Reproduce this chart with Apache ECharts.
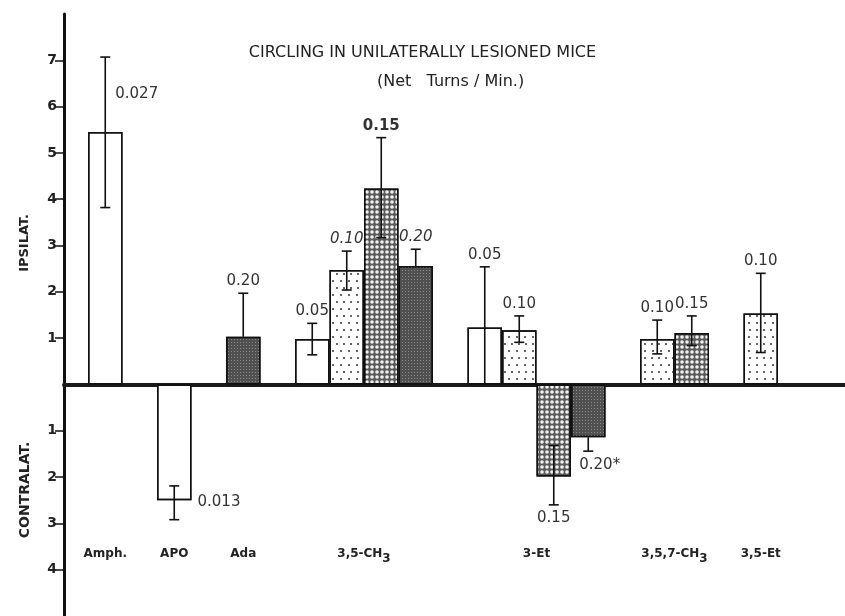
<!DOCTYPE html>
<html><head><meta charset="utf-8">
<script src="https://cdn.jsdelivr.net/npm/echarts@6/dist/echarts.min.js"></script>
<style>html,body{margin:0;padding:0;background:#fff}#c{width:845px;height:616px}</style>
</head><body><div id="c"></div>
<script>
// ---- data ----
const groupNames = ['Amph.', 'APO', 'Ada', '3,5-CH3', '3-Et', '3,5,7-CH3', '3,5-Et'];
const barGroup   = [0, 1, 2, 3, 3, 3, 3, 4, 4, 4, 4, 5, 5, 6];
const barFill    = ['open','open','dark','open','fine','coarse','dark','open','fine','coarse','dark','fine','coarse','fine'];
const barMean    = [5.45, -2.50, 1.03, 0.98, 2.47, 4.23, 2.56, 1.23, 1.17, -1.99, -1.14, 0.98, 1.11, 1.53];
const errLow     = [3.82, -2.92, 1.03, 0.64, 2.04, 3.17, 2.56, 0.00, 0.91, -2.60, -1.44, 0.66, 0.84, 0.69];
const errHigh    = [7.07, -2.19, 1.97, 1.32, 2.88, 5.33, 2.92, 2.54, 1.48, -1.32, -1.14, 1.39, 1.48, 2.40];
const pValue     = ['0.027','0.013','0.20','0.05','0.10','0.15','0.20','0.05','0.10','0.15','0.20*','0.10','0.15','0.10'];
const yTicks     = [-4, -3, -2, -1, 1, 2, 3, 4, 5, 6, 7];

// ---- layout (not data) ----
const W = 845, H = 616;
const gridLeft = 64, gridTop = 14;
const slotPx = 34.5, firstBarLeft = 88;
const xMin = -(firstBarLeft - gridLeft) / slotPx - 0.5;
const xMax = xMin + (W - gridLeft) / slotPx;

// slot of each bar: consecutive within group, one empty slot between groups
const slotOf = [];
let s = 0;
barGroup.forEach((g, i) => {
  if (i > 0) s += (g !== barGroup[i - 1]) ? 2 : 1;
  slotOf.push(s);
});
const groupCenters = groupNames.map((_, g) => {
  const sl = slotOf.filter((_, i) => barGroup[i] === g);
  return sl.reduce((a, b) => a + b, 0) / sl.length;
});

const fills = {
  open:   { color: '#ffffff', decal: { symbol: 'rect', symbolSize: 1, color: 'rgba(0,0,0,0)',
            dashArrayX: [1, 0], dashArrayY: [1, 0], rotation: 0 } },
  fine:   { color: '#ffffff', decal: { symbol: 'circle', symbolSize: 1, color: '#333',
            dashArrayX: [[2, 5], [0, 3.5, 2, 1.5]], dashArrayY: [2, 5], rotation: 0 } },
  coarse: { color: '#5a5a5a', decal: { symbol: 'circle', symbolSize: 0.9, color: '#f2f2f2',
            dashArrayX: [4, 1], dashArrayY: [4, 1], rotation: 0 } },
  dark:   { color: '#505050', decal: { symbol: 'rect', symbolSize: 1, color: '#888',
            dashArrayX: [1, 2], dashArrayY: [1, 2], rotation: 0 } }
};

const barData = barMean.map((v, i) => ({
  value: [slotOf[i], v],
  itemStyle: { color: fills[barFill[i]].color, decal: fills[barFill[i]].decal,
               borderColor: '#111', borderWidth: 1.5 }
}));
const errData = barMean.map((v, i) => [slotOf[i], errLow[i], errHigh[i], v, i]);

const labelPlace = { 0: 'whiskerRight', 1: 'barRight', 10: 'bottomRight' };
const labelFontStyle = { 4: 'italic', 6: 'italic' };
const labelFontWeight = { 5: 'bold' };

function renderErr(params, api) {
  const x = api.value(0), lo = api.value(1), hi = api.value(2), m = api.value(3), i = api.value(4);
  const pLo = api.coord([x, lo]), pHi = api.coord([x, hi]), pM = api.coord([x, m]);
  const cx = pM[0];
  const ls = { stroke: '#111', lineWidth: 1.6 };
  const ch = [{ type: 'line', shape: { x1: cx, y1: pLo[1], x2: cx, y2: pHi[1] }, style: ls }];
  const cap = 5;
  if (lo !== m && lo !== 0) ch.push({ type: 'line', shape: { x1: cx - cap, y1: pLo[1], x2: cx + cap, y2: pLo[1] }, style: ls });
  if (hi !== m && hi !== 0) ch.push({ type: 'line', shape: { x1: cx - cap, y1: pHi[1], x2: cx + cap, y2: pHi[1] }, style: ls });
  const halfBar = slotPx / 2;
  const place = labelPlace[i] || (m < 0 ? 'bottom' : 'top');
  let tx = cx, ty, align = 'center';
  if (place === 'top') ty = pHi[1] - 12;
  else if (place === 'bottom') ty = pLo[1] + 13;
  else if (place === 'bottomRight') { tx = cx - 9; align = 'left'; ty = pLo[1] + 14; }
  else if (place === 'whiskerRight') { tx = cx + 10; align = 'left'; ty = api.coord([x, (m + hi) / 2])[1]; }
  else if (place === 'barRight') { tx = cx + halfBar + 6; align = 'left'; ty = pM[1] + 2; }
  const fs = labelFontStyle[i] || 'normal';
  const fw = labelFontWeight[i] || 'normal';
  ch.push({ type: 'text', style: { text: pValue[i], x: tx, y: ty, align: align, verticalAlign: 'middle',
    font: fs + ' ' + fw + ' 15px "DejaVu Sans"', fill: '#333' } });
  return { type: 'group', children: ch };
}

const chart = echarts.init(document.getElementById('c'), null, { renderer: 'canvas', width: W, height: H });
chart.setOption({
  animation: false,
  backgroundColor: '#fff',
  aria: { enabled: true, decal: { show: true } },
  title: [
    { text: 'CIRCLING IN UNILATERALLY LESIONED MICE', left: 'center', top: 40,
      textStyle: { fontFamily: 'DejaVu Sans', fontSize: 16, fontWeight: 'normal', color: '#222' } },
    { text: '(Net   Turns / Min.)', left: 372, top: 69,
      textStyle: { fontFamily: 'DejaVu Sans', fontSize: 16, fontWeight: 'normal', color: '#222' } }
  ],
  graphic: [
    { type: 'text', x: 25, y: 243, rotation: Math.PI / 2, style: { text: 'IPSILAT.', align: 'center', verticalAlign: 'middle',
      font: 'bold 13px "DejaVu Sans"', fill: '#222' } },
    { type: 'text', x: 25, y: 490, rotation: Math.PI / 2, style: { text: 'CONTRALAT.', align: 'center', verticalAlign: 'middle',
      font: 'bold 14px "DejaVu Sans"', fill: '#222' } }
  ],
  grid: { left: gridLeft, right: 0, top: gridTop, bottom: 0, containLabel: false, outerBoundsMode: 'none' },
  xAxis: {
    type: 'value', min: xMin, max: xMax,
    axisLine: { onZero: true, lineStyle: { color: '#1a1a1a', width: 4 } },
    axisTick: { show: false },
    splitLine: { show: false },
    axisLabel: {
      customValues: groupCenters, margin: -74, color: '#222',
      fontFamily: 'DejaVu Sans', fontSize: 12, fontWeight: 'bold',
      formatter: v => {
        let best = 0, d = 1e9;
        groupCenters.forEach((c, g) => { if (Math.abs(c - v) < d) { d = Math.abs(c - v); best = g; } });
        const name = groupNames[best];
        return /CH3$/.test(name) ? '{n|' + name.slice(0, -1) + '}{sub|3}' : '{n|' + name + '}';
      },
      rich: {
        n: { fontFamily: 'DejaVu Sans', fontSize: 12, fontWeight: 'bold', color: '#222', lineHeight: 24 },
        sub: { fontFamily: 'DejaVu Sans', fontSize: 12, fontWeight: 'bold', color: '#222', lineHeight: 14, padding: [9, 0, 0, 0] }
      }
    }
  },
  yAxis: {
    type: 'value', min: -5, max: 8, interval: 1,
    axisLine: { show: true, onZero: false, lineStyle: { color: '#111', width: 3 } },
    axisTick: { show: true, length: 9, customValues: yTicks, lineStyle: { color: '#111', width: 1.5 } },
    axisLabel: { customValues: yTicks, formatter: v => String(Math.abs(v)), margin: 7,
      fontFamily: 'DejaVu Sans', fontSize: 14, fontWeight: 'bold', color: '#222' },
    splitLine: { show: false }
  },
  series: [
    { type: 'bar', data: barData, barWidth: slotPx, barGap: '-100%', z: 2 },
    { type: 'custom', data: errData, renderItem: renderErr, z: 3 }
  ]
});
</script>
</body></html>
